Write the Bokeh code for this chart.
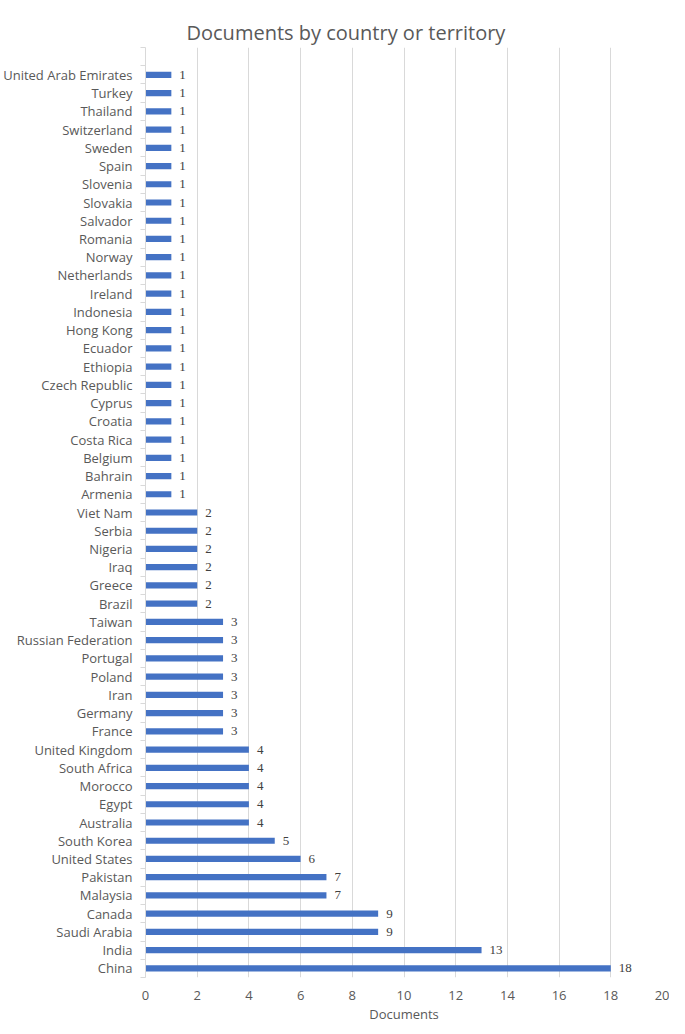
from bokeh.plotting import figure
from bokeh.models import ColumnDataSource, Range1d, FixedTicker, LabelSet, Title
from bokeh.embed import file_html
from bokeh.resources import INLINE

# Data (bottom to top)
countries = ["China", "India", "Saudi Arabia", "Canada", "Malaysia", "Pakistan",
             "United States", "South Korea", "Australia", "Egypt", "Morocco",
             "South Africa", "United Kingdom", "France", "Germany", "Iran", "Poland",
             "Portugal", "Russian Federation", "Taiwan", "Brazil", "Greece", "Iraq",
             "Nigeria", "Serbia", "Viet Nam", "Armenia", "Bahrain", "Belgium",
             "Costa Rica", "Croatia", "Cyprus", "Czech Republic", "Ethiopia", "Ecuador",
             "Hong Kong", "Indonesia", "Ireland", "Netherlands", "Norway", "Romania",
             "Salvador", "Slovakia", "Slovenia", "Spain", "Sweden", "Switzerland",
             "Thailand", "Turkey", "United Arab Emirates"]
documents = [18, 13, 9, 9, 7, 7, 6, 5, 4, 4, 4, 4, 4, 3, 3, 3, 3, 3, 3, 3,
             2, 2, 2, 2, 2, 2, 1, 1, 1, 1, 1, 1, 1, 1, 1, 1, 1, 1, 1, 1, 1,
             1, 1, 1, 1, 1, 1, 1, 1, 1]
x_ticks = [0, 2, 4, 6, 8, 10, 12, 14, 16, 18, 20]
title_text = "Documents by country or territory"
x_label = "Documents"

n_slots = len(countries) + 1  # one empty category slot on top
pos = list(range(len(countries)))

src = ColumnDataSource(dict(
    country=countries,
    documents=documents,
    pos=pos,
    label=[str(v) for v in documents],
))

GRAY = "#595959"
GRID = "#d9d9d9"
FONT = "Open Sans"

FW, FH = 517, 930
LEFT, TOP = 145, 47

p = figure(
    frame_width=FW, frame_height=FH,
    x_range=Range1d(0, 20), y_range=Range1d(-0.5, n_slots - 0.5),
    output_backend="svg", toolbar_location=None,
    min_border_left=LEFT, min_border_right=7, min_border_top=TOP, min_border_bottom=41,
)
p.outline_line_color = None
p.background_fill_color = "white"

p.hbar(y="pos", left=0, right="documents", height=0.34, source=src,
       fill_color="#4472C4", line_color=None)

labels = LabelSet(x="documents", y="pos", text="label", source=src,
                  x_offset=8, text_baseline="middle", text_align="left",
                  text_font=FONT, text_font_size="13px", text_color="#404040")
p.add_layout(labels)

# Title at the top
p.title.text = title_text
p.title.align = "left"
p.title.offset = 41
p.title.vertical_align = "top"
p.title.text_font = FONT
p.title.text_font_size = "20px"
p.title.text_font_style = "normal"
p.title.text_color = GRAY
p.title.standoff = 0

# Invisible spacer between the title and the plot area
spacer = Title(text=" ", text_font=FONT, text_font_size="16px", text_alpha=0,
               standoff=2)
p.add_layout(spacer, "above")

# X axis
p.xaxis.ticker = FixedTicker(ticks=x_ticks)
p.xaxis.axis_line_color = None
p.xaxis.major_tick_line_color = None
p.xaxis.minor_tick_line_color = None
p.xaxis.major_label_text_font = FONT
p.xaxis.major_label_text_font_size = "13px"
p.xaxis.major_label_text_color = GRAY
p.xaxis.major_label_standoff = 7
p.xaxis.axis_label = x_label
p.xaxis.axis_label_text_font = FONT
p.xaxis.axis_label_text_font_size = "13px"
p.xaxis.axis_label_text_font_style = "normal"
p.xaxis.axis_label_text_color = GRAY
p.xaxis.axis_label_standoff = 2

# Y axis
boundaries = [i - 0.5 for i in range(n_slots + 1)]
p.yaxis.ticker = FixedTicker(ticks=pos, minor_ticks=boundaries)
p.yaxis.major_label_overrides = {i: c for i, c in zip(pos, countries)}
p.yaxis.axis_line_color = GRID
p.yaxis.major_tick_line_color = None
p.yaxis.minor_tick_line_color = GRID
p.yaxis.minor_tick_out = 5
p.yaxis.minor_tick_in = 0
p.yaxis.major_label_text_font = FONT
p.yaxis.major_label_text_font_size = "13px"
p.yaxis.major_label_text_color = GRAY
p.yaxis.major_label_standoff = 7

p.xgrid.grid_line_color = GRID
p.ygrid.grid_line_color = None

open("out.html", "w").write(file_html(p, INLINE))
